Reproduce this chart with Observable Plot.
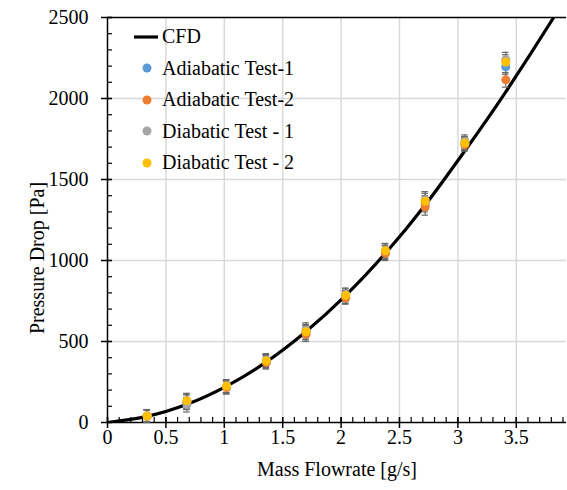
<!DOCTYPE html>
<html><head><meta charset="utf-8">
<script src="https://cdn.jsdelivr.net/npm/d3@7"></script>
<script src="https://cdn.jsdelivr.net/npm/@observablehq/plot@0.6"></script>
<style>
body{margin:0;background:#fff;}
#wrap{position:relative;width:567px;height:490px;font-family:"Liberation Serif","Tinos","DejaVu Serif",serif;}
#wrap svg text{font-family:"Liberation Serif","Tinos","DejaVu Serif",serif;}
#legend{position:absolute;left:130px;top:21px;font-size:20px;color:#000;}
.row{display:flex;align-items:center;height:31.5px;}
.sw{width:32px;height:20px;display:block;}
</style></head><body><div id="wrap"><div id="legend"></div></div>
<script>
// ---- data ----
const flow = [0.34, 0.68, 1.02, 1.36, 1.70, 2.04, 2.38, 2.72, 3.06, 3.41];
const seriesNames = ["Adiabatic Test-1", "Adiabatic Test-2", "Diabatic Test - 1", "Diabatic Test - 2"];
const seriesColors = ["#5B9BD5", "#ED7D31", "#A5A5A5", "#FFC000"];
const adiabatic1 = [40, 130, 220, 375, 555, 775, 1050, 1350, 1720, 2195];
const adiabatic2 = [38, 125, 215, 370, 545, 770, 1045, 1330, 1715, 2115];
const diabatic1 = [42, 110, 225, 385, 570, 790, 1060, 1375, 1735, 2240];
const diabatic2 = [40, 135, 225, 380, 560, 785, 1060, 1365, 1725, 2225];
const errBar = [38, 45, 40, 40, 45, 40, 45, 50, 40, 45];
const cfdFlow = [0, 0.34, 0.68, 1.02, 1.36, 1.70, 2.04, 2.38, 2.72, 3.06, 3.40, 3.82, 3.95];
const cfdDrop = [0, 38, 112, 225, 374, 562, 785, 1045, 1342, 1677, 2030, 2500, 2660];
const xTicks = [0, 0.5, 1, 1.5, 2, 2.5, 3, 3.5];
const xMinor = d3.range(0, 40).map(i => i / 10);
const yTicks = [0, 500, 1000, 1500, 2000, 2500];
const yMinor = d3.range(0, 26).map(i => i * 100);

const seriesValues = [adiabatic1, adiabatic2, diabatic1, diabatic2];
const points = seriesValues.flatMap((vals, s) => vals.map((v, i) => ({
  series: seriesNames[s], x: flow[i], y: v, lo: v - errBar[i], hi: v + errBar[i]
})));
const cfd = cfdFlow.map((x, i) => ({x, y: cfdDrop[i]}));
const capW = 0.028;
const serif = "'Liberation Serif','Tinos','DejaVu Serif',serif";

const chart = Plot.plot({
  width: 567, height: 490,
  marginLeft: 107, marginRight: 1, marginTop: 17, marginBottom: 68,
  style: {fontFamily: serif, fontSize: "20px", color: "#000", background: "#fff"},
  x: {domain: [0, 3.93]},
  y: {domain: [0, 2500]},
  color: {domain: seriesNames, range: seriesColors},
  marks: [
    Plot.gridX(xTicks.slice(1), {stroke: "#d9d9d9", strokeOpacity: 1, strokeWidth: 1.5}),
    Plot.gridY(yTicks.slice(1, -1), {stroke: "#d9d9d9", strokeOpacity: 1, strokeWidth: 1.5}),
    Plot.ruleY([2500], {stroke: "#000", strokeWidth: 1.5}),
    Plot.axisX(xMinor, {tickSize: 5, dy: -5, text: null, label: null, strokeWidth: 1.2}),
    Plot.axisX(xTicks, {tickSize: 11, dy: -5, text: null, label: null, strokeWidth: 1.5}),
    Plot.axisX(xTicks, {tickSize: 0, tickPadding: 7, fontSize: 20, fontFamily: serif, label: null, tickFormat: d => String(d)}),
    Plot.axisY(yMinor, {tickSize: 5, dx: 5, text: null, label: null, strokeWidth: 1.2}),
    Plot.axisY(yTicks, {tickSize: 11, dx: 5, text: null, label: null, strokeWidth: 1.5}),
    Plot.axisY(yTicks, {tickSize: 0, tickPadding: 19, fontSize: 20, fontFamily: serif, label: null, tickFormat: d => String(d)}),
    Plot.ruleX([0], {stroke: "#000", strokeWidth: 1.5}),
    Plot.ruleY([0], {stroke: "#000", strokeWidth: 1.5}),
    Plot.line(cfd, {x: "x", y: "y", curve: "natural", stroke: "#000", strokeWidth: 3.2, clip: true}),
    Plot.ruleX(points, {x: "x", y1: "lo", y2: "hi", stroke: "#666", strokeWidth: 1.2}),
    Plot.ruleY(points, {y: "hi", x1: d => d.x - capW, x2: d => d.x + capW, stroke: "#666", strokeWidth: 1.2}),
    Plot.ruleY(points, {y: "lo", x1: d => d.x - capW, x2: d => d.x + capW, stroke: "#666", strokeWidth: 1.2}),
    Plot.dot(points, {x: "x", y: "y", fill: "series", r: 4.5, stroke: null}),
    Plot.text(["Mass Flowrate [g/s]"], {frameAnchor: "bottom", textAnchor: "middle", dy: 53, fontSize: 20, fontFamily: serif}),
    Plot.text(["Pressure Drop [Pa]"], {frameAnchor: "left", textAnchor: "middle", rotate: -90, dx: -70, dy: 38, fontSize: 20, fontFamily: serif})
  ]
});
document.getElementById("wrap").prepend(chart);

// legend
const legend = d3.select("#legend");
const r0 = legend.append("div").attr("class", "row");
r0.append("svg").attr("class", "sw").append("line")
  .attr("x1", 4).attr("x2", 28).attr("y1", 10).attr("y2", 10)
  .attr("stroke", "#000").attr("stroke-width", 3.2);
r0.append("span").text("CFD");
seriesNames.forEach((name, i) => {
  const r = legend.append("div").attr("class", "row");
  r.append("svg").attr("class", "sw").append("circle")
    .attr("cx", 17).attr("cy", 10).attr("r", 4.5).attr("fill", seriesColors[i]);
  r.append("span").text(name);
});
</script></body></html>
